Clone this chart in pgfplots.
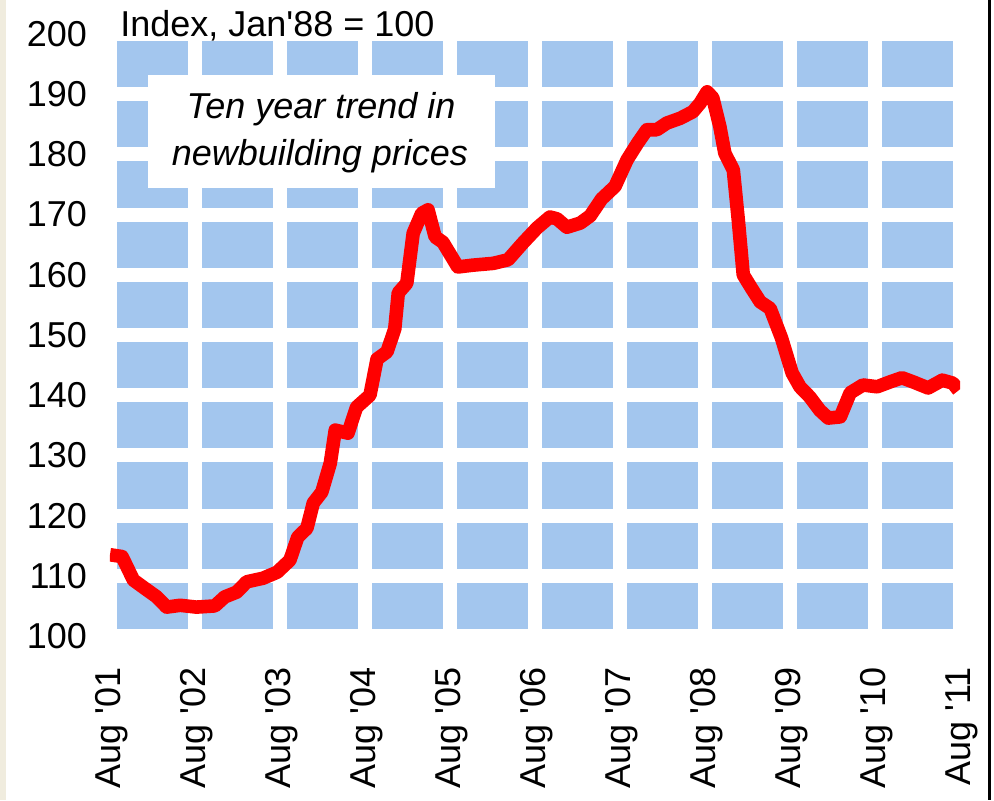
\documentclass[border=0pt]{standalone}
\usepackage{fontspec}
\setmainfont{Liberation Sans}
\usepackage{pgfplots}
\pgfplotsset{compat=1.18}
\definecolor{bgblue}{RGB}{163,198,238}
\definecolor{cream}{RGB}{240,236,222}
\begin{document}
\begin{tikzpicture}
\useasboundingbox (0,0) rectangle (497pt,400pt);
\fill[white] (0,0) rectangle (497pt,400pt);
\fill[cream] (0,0) rectangle (3pt,400pt);
\fill[black] (494pt,0) rectangle (495.5pt,400pt);
\begin{axis}[at={(55pt,82pt)}, anchor=south west, scale only axis,
 width=425pt, height=301pt,
 xmin=0, xmax=120, ymin=100, ymax=200,
 xtick={0,12,...,120},
 xticklabels={Aug \textquotesingle01,Aug \textquotesingle02,Aug \textquotesingle03,Aug \textquotesingle04,Aug \textquotesingle05,Aug \textquotesingle06,Aug \textquotesingle07,Aug \textquotesingle08,Aug \textquotesingle09,Aug \textquotesingle10,Aug \textquotesingle11},
 ytick={100,110,...,200},
 axis line style={draw=none}, major tick length=0pt,
 grid=major, major grid style={white, line width=7pt},
 axis background/.style={fill=bgblue},
 tick label style={font=\fontsize{18}{20}\selectfont},
 /pgf/number format/assume math mode=true,
 yticklabel style={xshift=-8pt},
 xticklabel style={rotate=90, anchor=east, xshift=-12pt, yshift=-1pt},
]
\addplot[red, line width=6.8pt, line join=round] coordinates {
(0,113.5) (1.7,113.2) (3.3,109.3) (4.7,108.1) (6.6,106.5) (8,104.8) (9.9,105.1)
(12.2,104.8) (14.8,105.0) (16.2,106.5) (17.9,107.3) (19.3,109.0) (21.6,109.6)
(23.6,110.6) (25.4,112.6) (26.5,116.4) (27.8,117.9) (28.7,122.1) (29.9,123.9)
(31.1,128.7) (31.8,134.2) (33.6,133.7) (34.8,138.0) (36.7,140.0) (37.7,146.0)
(39.1,147.2) (40.2,151.0) (40.7,157.0) (41.9,158.6) (42.8,166.9) (44.0,170.2)
(44.9,170.8) (45.9,166.3) (47.0,165.4) (49.1,161.3) (51.2,161.6) (54.1,161.9)
(56.2,162.5) (58.3,165.3) (60.3,167.8) (62.1,169.6) (63.1,169.3) (64.5,167.9)
(66.4,168.6) (67.8,169.8) (69.4,172.6) (71.3,174.7) (73.0,179.1) (74.5,181.9)
(75.8,184.1) (77.2,184.1) (78.6,185.2) (80.5,186.0) (82.3,187.1) (83.3,188.5)
(84.3,190.4) (85.1,189.4) (86.1,184.6) (86.8,180.2) (88.0,177.4) (88.7,169.1)
(89.4,160.0) (90.6,157.7) (91.8,155.5) (93.2,154.4) (94.8,149.5) (96.3,143.7)
(97.4,141.4) (98.8,139.7) (100.2,137.5) (101.4,136.2) (103.1,136.4) (104.5,140.4)
(106.3,141.7) (108.3,141.4) (110.1,142.2) (111.8,142.9) (113.4,142.2) (115.5,141.2)
(117.5,142.5) (119.0,142.0) (119.8,140.8)
};
\end{axis}
\node[anchor=base west, inner sep=0pt, font=\fontsize{18}{20}\selectfont] at (60pt,381.5pt) {Index, Jan\textquotesingle 88 = 100};
\fill[white] (74pt,306pt) rectangle (247.5pt,362.5pt);
\node[anchor=base, inner sep=0pt, font=\fontsize{18}{20}\selectfont\itshape] at (160.5pt,341pt) {Ten year trend in};
\node[anchor=base, inner sep=0pt, font=\fontsize{18}{20}\selectfont\itshape] at (160pt,317.5pt) {newbuilding prices};
\end{tikzpicture}
\end{document}
